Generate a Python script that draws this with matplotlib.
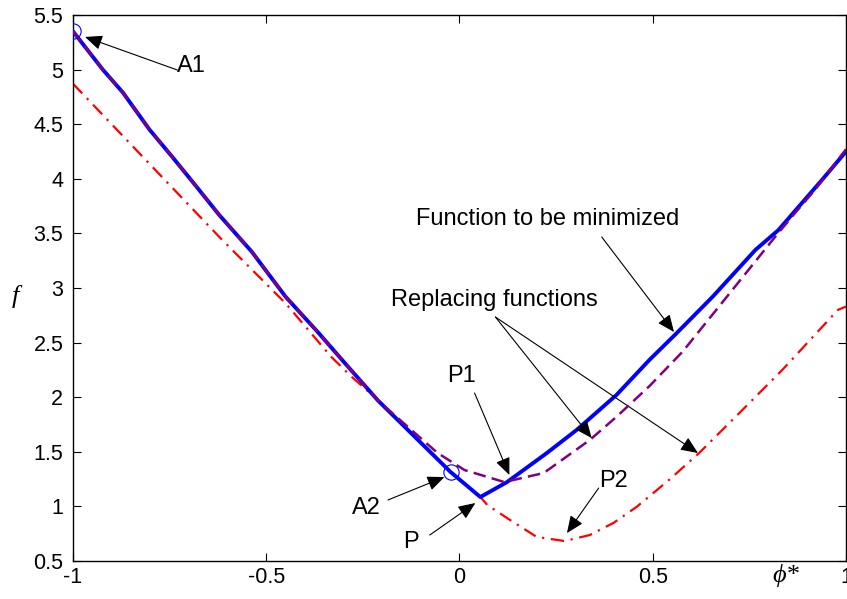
import matplotlib
matplotlib.use('Agg')
import matplotlib.pyplot as plt

plt.rcParams['font.family'] = ['Liberation Sans', 'DejaVu Sans']

# function to be minimized (blue, solid)
blue_x = [-1.0, -0.923, -0.871, -0.802, -0.743, -0.681, -0.622, -0.537, -0.450, -0.365,
          -0.296, -0.211, -0.023, 0.054, 0.123, 0.226, 0.303, 0.406, 0.491, 0.560,
          0.655, 0.766, 0.825, 0.938, 1.0]
blue_y = [5.35, 5.00, 4.79, 4.45, 4.20, 3.93, 3.67, 3.33, 2.92, 2.59,
          2.31, 1.97, 1.315, 1.086, 1.223, 1.489, 1.70, 2.02, 2.34, 2.58,
          2.92, 3.35, 3.53, 3.99, 4.25]

# replacing function 1 (purple, dashed)
purple_x = [-1.0, -0.923, -0.871, -0.802, -0.743, -0.681, -0.622, -0.537, -0.450, -0.365,
            -0.296, -0.211, -0.057, 0.013, 0.116, 0.218, 0.337, 0.406, 0.491, 0.578,
            0.71, 0.817, 0.869, 0.92, 1.0]
purple_y = [5.35, 5.00, 4.79, 4.45, 4.20, 3.93, 3.67, 3.33, 2.92, 2.59,
            2.31, 1.97, 1.49, 1.333, 1.223, 1.306, 1.608, 1.82, 2.10, 2.42,
            3.00, 3.47, 3.69, 3.90, 4.27]

# replacing function 2 (red, dash-dot)
red_x = [-1.0, -0.614, -0.450, -0.332, -0.28, -0.211, -0.023, 0.054, 0.072, 0.131,
         0.2, 0.272, 0.337, 0.398, 0.458, 0.542, 0.620, 0.732, 0.835, 0.979, 1.0]
red_y = [4.87, 3.44, 2.86, 2.37, 2.19, 1.974, 1.315, 1.086, 1.013, 0.875,
         0.72, 0.683, 0.738, 0.848, 0.995, 1.242, 1.489, 1.883, 2.249, 2.799, 2.83]

# marked points A1, A2
circ_x = [-1.0, -0.023]
circ_y = [5.35, 1.315]

# annotations: label, text position, arrow tails, arrow heads
notes = [
    ('A1', (-0.730, 4.98), [(-0.730, 4.996)], [(-0.969, 5.299)]),
    ('A2', (-0.278, 0.93), [(-0.185, 1.059)], [(-0.039, 1.269)]),
    ('P', (-0.147, 0.62), [(-0.077, 0.738)], [(0.041, 1.031)]),
    ('P1', (-0.031, 2.14), [(0.039, 2.038)], [(0.129, 1.288)]),
    ('P2', (0.362, 1.18), [(0.360, 1.168)], [(0.278, 0.756)]),
    ('Replacing functions', (-0.177, 2.835), [(0.093, 2.734), (0.093, 2.734)],
     [(0.342, 1.626), (0.617, 1.489)]),
    ('Function to be minimized', (-0.113, 3.577), [(0.368, 3.467)], [(0.555, 2.597)]),
]

xticks = [-1, -0.5, 0, 0.5, 1]
xlabels = ['-1', '-0.5', '0', '0.5', '1']
yticks = [0.5, 1, 1.5, 2, 2.5, 3, 3.5, 4, 4.5, 5, 5.5]
ylabels = ['0.5', '1', '1.5', '2', '2.5', '3', '3.5', '4', '4.5', '5', '5.5']

fig = plt.figure(figsize=(8.47, 5.99), dpi=100)
ax = fig.add_axes([0.0862, 0.0634, 0.9126, 0.9116])

ax.plot(red_x, red_y, color='#ff0000', lw=1.6, dashes=(6, 3, 1, 3), zorder=2)
ax.plot(blue_x, blue_y, color='#0000ff', lw=2.8, zorder=3)
ax.plot(purple_x, purple_y, color='#800080', lw=1.8, dashes=(5, 2.5), zorder=4)
ax.plot(circ_x, circ_y, 'o', mfc='none', mec='#0000ff', ms=11, mew=0.8, zorder=5)

for label, tpos, tails, heads in notes:
    ax.text(tpos[0], tpos[1], label, fontsize=17, ha='left', va='baseline')
    for tail, head in zip(tails, heads):
        ax.annotate('', xy=head, xytext=tail,
                    arrowprops=dict(arrowstyle='-|>,head_length=0.7,head_width=0.3',
                                    color='k', lw=0.8, mutation_scale=15,
                                    shrinkA=0, shrinkB=0))

ax.set_xlim(-1, 1)
ax.set_ylim(0.5, 5.5)
ax.set_xticks(xticks)
ax.set_xticklabels(xlabels)
ax.set_yticks(yticks)
ax.set_yticklabels(ylabels)
ax.tick_params(direction='in', length=5.5, width=0.8, labelsize=15.5,
               top=True, right=True)
ax.tick_params(axis='y', pad=7)
ax.tick_params(axis='x', pad=4.5)
for s in ax.spines.values():
    s.set_linewidth(1.0)

ax.text(0.81, -0.006, '\u03d5*', transform=ax.get_xaxis_transform(),
        fontsize=19, family=['Liberation Serif', 'DejaVu Serif'], style='italic',
        va='top', ha='left')
fig.text(0.018, 0.505, 'f', fontsize=19, family='Liberation Serif', style='italic',
         va='center', ha='center')

fig.savefig('out.png', dpi=100)
